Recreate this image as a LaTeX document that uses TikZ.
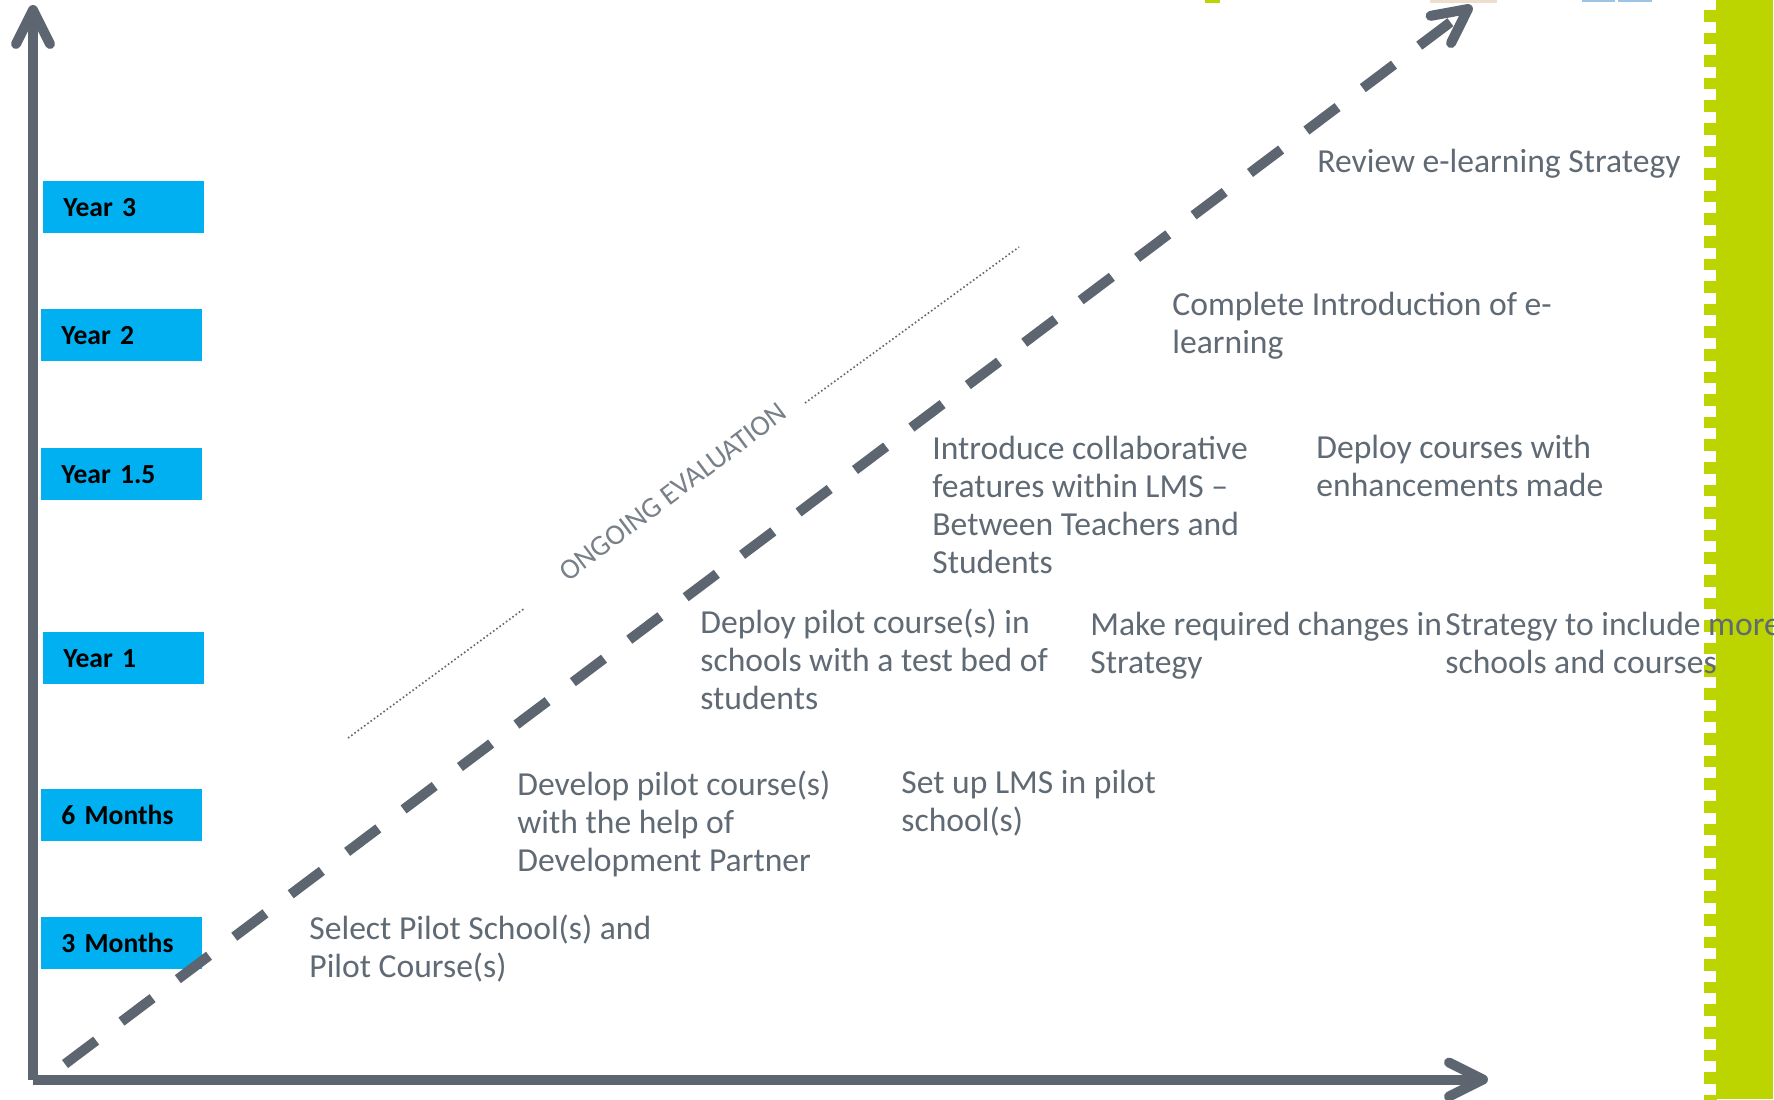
\documentclass[tikz,border=0pt]{standalone}
\usepackage{fontspec}
\setmainfont{Carlito}
\usetikzlibrary{arrows.meta}
\definecolor{axisgray}{RGB}{93,102,112}
\definecolor{txtgray}{RGB}{96,106,116}
\definecolor{ybl}{RGB}{0,176,240}
\definecolor{lime}{RGB}{188,212,0}
\definecolor{skyb}{RGB}{157,195,230}
\begin{document}
\begin{tikzpicture}[x=0.5pt,y=-0.5pt,
  lbl/.style={anchor=base west, align=left, inner sep=0pt, text=txtgray, font=\fontsize{16.8}{19}\selectfont},
  yearbox/.style={anchor=north west, fill=ybl, minimum width=80.5pt, minimum height=26pt, inner xsep=10pt, inner ysep=0pt, text width=60.5pt, align=left, text=black, font=\bfseries\fontsize{13.8}{16}\selectfont},
  axisline/.style={draw=axisgray, line width=5pt, -{Straight Barb[length=17pt,width=17pt,round]}},
  timeline/.style={draw=axisgray, line width=5pt, dash pattern=on 19.5pt off 15.8pt, -{Straight Barb[length=17pt,width=17pt,round]}},
  evalline/.style={draw=axisgray, line width=0.8pt, dash pattern=on 0.8pt off 1.2pt}]
\useasboundingbox (0,0) rectangle (1774,1099);
\fill[white] (0,0) rectangle (1774,1099);
% green border
\fill[lime] (1716,0) rectangle (1773,1099);
\foreach \k in {0,...,48} \fill[lime] (1704,{10+22.6*\k}) rectangle (1716.5,{21.5+22.6*\k});
% clipped bits at the top
\fill[lime] (1205,0) rectangle (1220,2.5);
\fill[skyb] (1582,0) rectangle (1615,1.5);
\fill[skyb] (1618,0) rectangle (1652,1.5);
\fill[brown!50, opacity=0.5] (1430,0) rectangle (1497,2.5);
% coordinates
\coordinate (vb) at (33,1080);
\coordinate (vt) at (33,5);
\coordinate (hl) at (33,1079.5);
\coordinate (hr) at (1488,1079.5);
\coordinate (ds) at (65,1064);
\coordinate (de) at (1472,6);
\coordinate (e1s) at (348,738);
\coordinate (e1e) at (525,608);
\coordinate (e2s) at (805,403);
\coordinate (e2e) at (1019,247);
% year boxes
\node[yearbox] (y3) at (43,181) {Year 3};
\node[yearbox] (y2) at (41,309) {Year 2};
\node[yearbox] (y15) at (41,448) {Year 1.5};
\node[yearbox] (y1) at (43,632) {Year 1};
\node[yearbox] (m6) at (41,789) {6 Months};
\node[yearbox] (m3) at (41,917) {3 Months};
% axes
\draw[axisline] (vb) -- (vt);
\draw[axisline] (hl) -- (hr);
% ongoing evaluation
\draw[evalline] (e1s) -- (e1e);
\draw[evalline] (e2s) -- (e2e);
\node[rotate=36.9, text=txtgray!85, font=\fontsize{14.5}{16}\selectfont, inner sep=0pt] (ev) at (673,492) {ONGOING EVALUATION};
% timeline
\draw[timeline] (ds) -- (de);
% labels (anchor = baseline of the last line)
\node[lbl] (t1) at (1317,172) {Review e-learning Strategy};
\node[lbl] (t2) at (1172,353) {Complete Introduction of e-\\learning};
\node[lbl] (t3) at (932,573) {Introduce collaborative\\features within LMS –\\Between Teachers and\\Students};
\node[lbl] (t4) at (1316,496) {Deploy courses with\\enhancements made};
\node[lbl] (t5) at (700,709) {Deploy pilot course(s) in\\schools with a test bed of\\students};
\node[lbl] (t6) at (1090,673) {Make required changes in\\Strategy};
\node[lbl] (t7) at (1445,673) {Strategy to include more\\schools and courses};
\node[lbl] (t8) at (517,871) {Develop pilot course(s)\\with the help of\\Development Partner};
\node[lbl] (t9) at (901,831) {Set up LMS in pilot\\school(s)};
\node[lbl] (t10) at (309,977) {Select Pilot School(s) and\\Pilot Course(s)};
\end{tikzpicture}
\end{document}
